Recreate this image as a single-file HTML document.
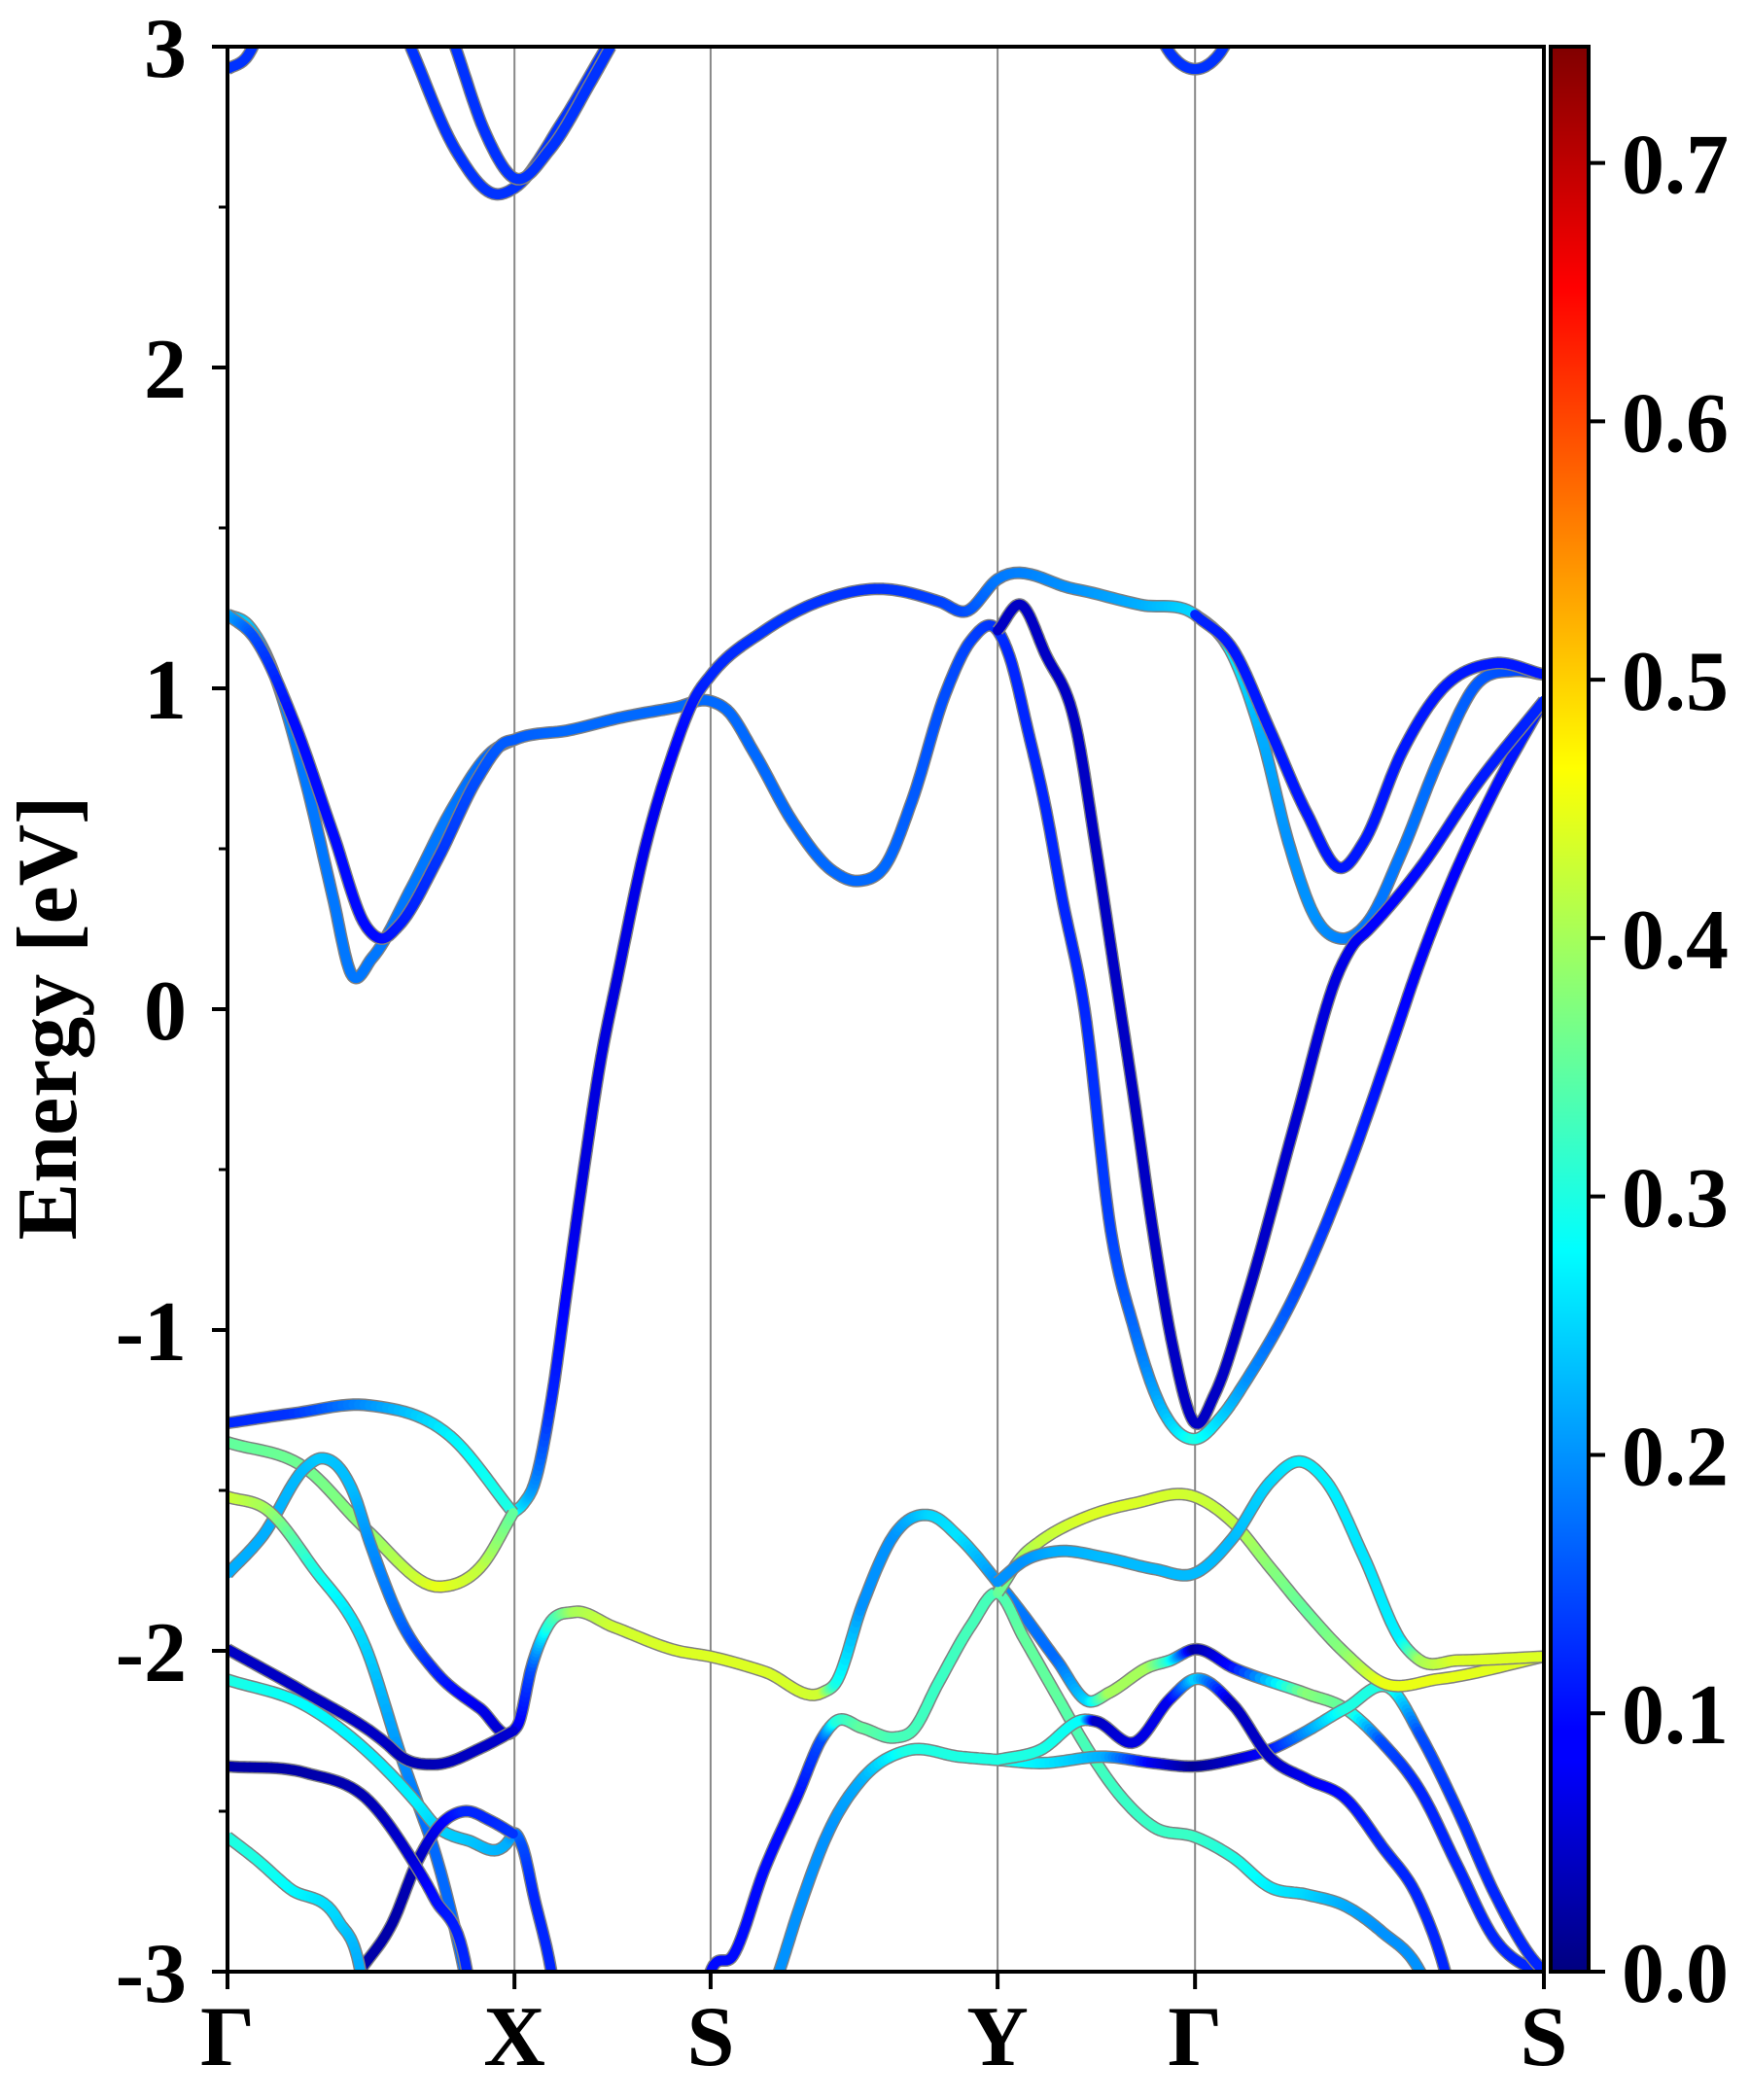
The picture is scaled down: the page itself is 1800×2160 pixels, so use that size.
<!DOCTYPE html>
<html><head><meta charset="utf-8"><style>
html,body{margin:0;padding:0;background:#fff}
svg{display:block}
text{font-family:"Liberation Serif","Times New Roman",serif;font-weight:bold;fill:#000}
</style></head><body>
<svg id="chart" width="1800" height="2160" viewBox="0 0 1800 2160">
<defs>
<clipPath id="plotclip"><rect x="234" y="48" width="1354" height="1980"/></clipPath>
<linearGradient id="jet" x1="0" y1="1" x2="0" y2="0">
<stop offset="0" stop-color="#000080"/><stop offset="0.11" stop-color="#0000ff"/><stop offset="0.125" stop-color="#0000ff"/>
<stop offset="0.375" stop-color="#00ffff"/><stop offset="0.625" stop-color="#ffff00"/><stop offset="0.875" stop-color="#ff0000"/><stop offset="1" stop-color="#800000"/>
</linearGradient>
</defs>
<g id="bands" clip-path="url(#plotclip)"></g>
<g id="axes"></g>
</svg>
<script>
// ---- data ----
const kLabels = ["Γ","X","S","Y","Γ","S"];
const kTicks = [0, 0.218, 0.367, 0.585, 0.735, 1.0];
const eTicks = [-3,-2,-1,0,1,2,3];
const eMinorTicks = [-2.5,-1.5,-0.5,0.5,1.5,2.5];
const cbTicks = [0.0,0.1,0.2,0.3,0.4,0.5,0.6,0.7];
const cbMax = 0.745;
// each band: [k, E, weight]
const bandTopG1 = [[0,2.93,.13],[.015,2.97,.13],[.03,3.1,.13]];
const bandTopG2 = [[.70,3.1,.13],[.718,2.97,.13],[.735,2.93,.13],[.752,2.97,.13],[.77,3.1,.13]];
const bandTopX1 = [[.139,3.0,.13],[.173,2.68,.13],[.204,2.54,.13],[.218,2.56,.13],[.255,2.77,.13],[.288,3.0,.13]];
const bandTopX2 = [[.173,3.0,.13],[.196,2.73,.13],[.218,2.59,.13],[.245,2.68,.13],[.276,2.89,.13],[.291,3.0,.13]];
const bandC1 = [[0,1.23,.22],[.015,1.2,.24],[.03,1.1,.2],[.06,.7,.18],[.08,.35,.18],[.094,.11,.18],[.11,.16,.18],[.14,.38,.18],[.17,.62,.18],[.2,.8,.17],[.218,.84,.16],[.26,.87,.17],[.3,.91,.17],[.34,.94,.17],[.367,.96,.17],[.38,.93,.17],[.4,.8,.17],[.43,.58,.17],[.46,.43,.17],[.48,.4,.17],[.5,.45,.17],[.52,.65,.16],[.545,.98,.15],[.565,1.15,.14],[.585,1.18,.13],[.594,1.1,.12],[.608,.869,.12],[.621,.637,.12],[.634,.347,.12],[.651,0,.12],[.671,-.69,.14],[.689,-1.0,.17],[.708,-1.23,.22],[.735,-1.34,.3],[.755,-1.27,.25],[.775,-1.15,.2],[.812,-.88,.15],[.849,-.52,.12],[.886,-.09,.1],[.903,.115,.09],[.92,.3,.09],[.962,.68,.1],[1.0,.962,.12]];
const bandC2 = [[0,1.23,.22],[.02,1.16,.15],[.05,.9,.1],[.08,.55,.1],[.105,.26,.1],[.117,.22,.1],[.13,.26,.11],[.16,.47,.13],[.19,.72,.15],[.21,.83,.16],[.218,.84,.16]];
const bandC3 = [[.217,-1.57,.3],[.225,-1.54,.25],[.233,-1.48,.2],[.246,-1.22,.12],[.258,-.87,.09],[.27,-.52,.07],[.283,-.17,.07],[.297,.115,.07],[.317,.5,.08],[.337,.78,.09],[.355,.97,.11],[.367,1.04,.12],[.408,1.18,.13],[.449,1.27,.13],[.495,1.31,.13],[.541,1.27,.14],[.561,1.24,.15],[.585,1.34,.18],[.643,1.31,.2],[.694,1.26,.22],[.735,1.23,.25],[.764,1.1,.27],[.786,.845,.22],[.806,.52,.2],[.826,.289,.2],[.846,.22,.19],[.866,.27,.18],[.892,.49,.18],[.92,.777,.17],[.948,1.008,.16],[.977,1.054,.15],[1.0,1.043,.14]];
const bandC4 = [[.735,1.23,.12],[.764,1.12,.11],[.792,.869,.11],[.82,.61,.11],[.846,.44,.11],[.863,.52,.11],[.892,.8,.11],[.92,.985,.11],[.962,1.078,.11],[1.0,1.043,.11]];
const bandC5 = [[.585,1.18,.05],[.603,1.26,.05],[.621,1.11,.05],[.645,.87,.05],[.659,.52,.05],[.674,.115,.05],[.689,-.29,.05],[.703,-.69,.05],[.718,-1.05,.05],[.735,-1.29,.05],[.75,-1.2,.05],[.775,-.89,.05],[.812,-.34,.06],[.844,.115,.07],[.855,.2,.08],[.866,.245,.09],[.906,.44,.1],[.948,.695,.11],[1.0,.962,.12]];
const bandV1 = [[0,-1.29,.12],[.05,-1.26,.13],[.108,-1.235,.2],[.169,-1.33,.27],[.217,-1.57,.3]];
const bandV2 = [[0,-1.35,.35],[.059,-1.43,.36],[.105,-1.62,.38],[.162,-1.8,.45],[.194,-1.73,.42],[.217,-1.57,.35]];
const bandV3 = [[0,-1.76,.22],[.027,-1.64,.22],[.059,-1.43,.23],[.071,-1.4,.24],[.096,-1.51,.23],[.108,-1.66,.2],[.132,-1.91,.17],[.157,-2.06,.12],[.192,-2.18,.08],[.217,-2.25,.05],[.221,-2.227,.08],[.231,-2.05,.15],[.243,-1.925,.3],[.263,-1.879,.4],[.293,-1.925,.43],[.342,-2.0,.44],[.367,-2.018,.44],[.408,-2.065,.44],[.452,-2.13,.43],[.462,-2.1,.3],[.482,-1.86,.2],[.507,-1.635,.2],[.534,-1.578,.25],[.556,-1.647,.26],[.585,-1.786,.2],[.605,-1.89,.18],[.63,-2.03,.17],[.654,-2.157,.25],[.67,-2.13,.4],[.7,-2.05,.4],[.716,-2.03,.3],[.735,-1.995,.03],[.764,-2.053,.1],[.82,-2.134,.38],[.849,-2.18,.35],[.877,-2.285,.15],[.906,-2.436,.12],[.934,-2.667,.12],[.963,-2.9,.12],[.991,-2.99,.12],[1.0,-3.0,.12]];
const bandV4 = [[0,-1.52,.43],[.03,-1.56,.4],[.065,-1.74,.3],[.105,-1.99,.25],[.132,-2.33,.2],[.145,-2.48,.18],[.157,-2.62,.17],[.18,-3.0,.17],[.185,-3.1,.17]];
const bandV5 = [[0,-1.995,.05],[.059,-2.13,.05],[.121,-2.29,.05],[.132,-2.33,.04],[.157,-2.354,.04],[.194,-2.3,.05],[.217,-2.25,.06]];
const bandV6 = [[0,-2.09,.3],[.059,-2.17,.28],[.108,-2.32,.27],[.145,-2.48,.27],[.157,-2.54,.25],[.182,-2.59,.24],[.214,-2.59,.22],[.217,-2.57,.2],[.224,-2.61,.15],[.233,-2.77,.12],[.246,-3.0,.12],[.25,-3.1,.12]];
const bandV7 = [[.1,-3.0,.03],[.125,-2.85,.03],[.145,-2.65,.04],[.16,-2.55,.08],[.18,-2.5,.12],[.2,-2.53,.12],[.217,-2.57,.13]];
const bandV8 = [[0,-2.36,.03],[.059,-2.38,.03],[.108,-2.47,.04],[.14,-2.65,.06],[.157,-2.77,.1],[.182,-3.0,.12],[.186,-3.1,.12]];
const bandV9 = [[0,-2.58,.3],[.022,-2.65,.3],[.047,-2.74,.28],[.084,-2.84,.25],[.101,-3.0,.22],[.105,-3.1,.22]];
const bandV10 = [[.36,-3.1,.1],[.367,-3.0,.1],[.384,-2.95,.1],[.408,-2.68,.1],[.433,-2.45,.1],[.452,-2.27,.15],[.462,-2.22,.3],[.482,-2.24,.35],[.507,-2.27,.33],[.52,-2.25,.33],[.54,-2.1,.32],[.565,-1.92,.33],[.585,-1.82,.33],[.605,-1.96,.35],[.63,-2.14,.35],[.654,-2.31,.33],[.68,-2.46,.32],[.704,-2.55,.32],[.735,-2.58,.32],[.764,-2.644,.3],[.792,-2.737,.27],[.82,-2.76,.25],[.849,-2.795,.22],[.877,-2.876,.2],[.906,-3.0,.2],[.915,-3.08,.2]];
const bandV11 = [[.41,-3.1,.2],[.419,-3.0,.2],[.433,-2.82,.2],[.457,-2.56,.2],[.482,-2.4,.22],[.517,-2.31,.3],[.556,-2.33,.3],[.585,-2.34,.3],[.617,-2.35,.27],[.667,-2.33,.22],[.704,-2.35,.08],[.735,-2.36,.02],[.764,-2.34,.05],[.792,-2.308,.1],[.82,-2.25,.2],[.849,-2.18,.3],[.885,-2.122,.3],[.906,-2.262,.15],[.934,-2.493,.13],[.963,-2.76,.12],[.991,-2.958,.12],[1.0,-3.0,.12]];
const bandV12 = [[.585,-1.82,.35],[.605,-1.7,.4],[.617,-1.66,.42],[.654,-1.58,.44],[.689,-1.54,.44],[.735,-1.52,.43],[.764,-1.601,.42],[.792,-1.74,.38],[.82,-1.879,.35],[.849,-2.007,.38],[.877,-2.099,.45],[.92,-2.088,.45],[1.0,-2.018,.44]];
const bandV13 = [[.585,-1.786,.2],[.605,-1.72,.2],[.63,-1.69,.22],[.667,-1.71,.23],[.704,-1.745,.23],[.735,-1.758,.23],[.764,-1.647,.23],[.792,-1.474,.25],[.815,-1.41,.27],[.835,-1.474,.27],[.863,-1.705,.26],[.892,-1.972,.27],[.906,-2.03,.4],[.934,-2.03,.44],[1.0,-2.018,.44]];
const bandV14 = [[.585,-2.34,.3],[.617,-2.31,.3],[.651,-2.215,.28],[.66,-2.22,.05],[.689,-2.285,.07],[.716,-2.15,.08],[.735,-2.088,.25],[.764,-2.169,.05],[.792,-2.332,.05],[.82,-2.4,.08],[.849,-2.459,.1],[.877,-2.609,.12],[.906,-2.784,.12],[.925,-3.0,.12],[.93,-3.08,.12]];
const bands = [bandTopG1,bandTopG2,bandTopX1,bandTopX2,bandC1,bandC2,bandC3,bandC4,bandC5,bandV1,bandV2,bandV3,bandV4,bandV5,bandV6,bandV7,bandV8,bandV9,bandV10,bandV11,bandV12,bandV13,bandV14];

// ---- layout ----
const L=234,R=1588,T=48,B=2028, EMIN=-3, EMAX=3;
const xS = k => L + k*(R-L);
const yS = e => B - (e-EMIN)/(EMAX-EMIN)*(B-T);
const NS="http://www.w3.org/2000/svg";
function mk(tag, attrs, parent){const el=document.createElementNS(NS,tag);for(const a in attrs)el.setAttribute(a,attrs[a]);parent.appendChild(el);return el;}
function jet(w){const t=Math.max(0,Math.min(1,w/cbMax));const c=v=>Math.round(255*Math.max(0,Math.min(1,v)));
  return `rgb(${c(1.5-Math.abs(4*t-3))},${c(1.5-Math.abs(4*t-2))},${c(1.5-Math.abs(4*t-1))})`;}
const bg=document.getElementById('bands'), ax=document.getElementById('axes');

kTicks.slice(1,-1).forEach((k,i)=>{
  const l=mk('line',{x1:xS(k),x2:xS(k),y1:T,y2:B,stroke:'#888',"stroke-width":2},bg);
  
  
});

// cubic Hermite in k with non-uniform finite-difference tangents
function smooth(pts){
  const n=pts.length, m=[];
  for(let i=0;i<n;i++){
    if(i===0) m.push((pts[1][1]-pts[0][1])/(pts[1][0]-pts[0][0]));
    else if(i===n-1) m.push((pts[n-1][1]-pts[n-2][1])/(pts[n-1][0]-pts[n-2][0]));
    else {
      const d0=(pts[i][1]-pts[i-1][1])/(pts[i][0]-pts[i-1][0]), d1=(pts[i+1][1]-pts[i][1])/(pts[i+1][0]-pts[i][0]);
      const h0=pts[i][0]-pts[i-1][0], h1=pts[i+1][0]-pts[i][0];
      m.push((d0*h1+d1*h0)/(h0+h1));
    }
  }
  const out=[];
  for(let i=0;i<n-1;i++){
    const h=pts[i+1][0]-pts[i][0], N=14;
    for(let j=0;j<N;j++){const t=j/N,t2=t*t,t3=t2*t;
      const y=(2*t3-3*t2+1)*pts[i][1]+(t3-2*t2+t)*h*m[i]+(-2*t3+3*t2)*pts[i+1][1]+(t3-t2)*h*m[i+1];
      out.push([pts[i][0]+h*t,y,pts[i][2]+(pts[i+1][2]-pts[i][2])*t]);}
  }
  out.push(pts[n-1]);return out;}

bands.forEach((band,bi)=>{
  const g=mk('g',{},bg);
  
  
  const s=smooth(band);
  const d=s.map((p,i)=>(i?'L':'M')+xS(p[0]).toFixed(1)+','+yS(p[1]).toFixed(1)).join('');
  mk('path',{d:d,fill:'none',stroke:'#808080',"stroke-width":13,"stroke-linejoin":'round'},g);
  for(let i=0;i<s.length-1;i++){
    mk('line',{x1:xS(s[i][0]),y1:yS(s[i][1]),x2:xS(s[i+1][0]),y2:yS(s[i+1][1]),stroke:jet((s[i][2]+s[i+1][2])/2),"stroke-width":10,"stroke-linecap":'round'},g);
  }
});

const fr=mk('rect',{x:L,y:T,width:R-L,height:B-T,fill:'none',stroke:'#000',"stroke-width":4},ax);


eTicks.forEach(e=>{
  mk('line',{x1:L-16,x2:L,y1:yS(e),y2:yS(e),stroke:'#000',"stroke-width":4},ax);
  const t=mk('text',{x:192,y:yS(e)+31,"font-size":88,"text-anchor":'end'},ax);
  t.textContent=String(e);
  
  
});
eMinorTicks.forEach(e=>{mk('line',{x1:L-9,x2:L,y1:yS(e),y2:yS(e),stroke:'#000',"stroke-width":3},ax);});
kTicks.forEach((k,i)=>{
  mk('line',{x1:xS(k),x2:xS(k),y1:B,y2:B+18,stroke:'#000',"stroke-width":4},ax);
  const t=mk('text',{x:xS(k),y:2124,"font-size":88,"text-anchor":'middle'},ax);
  t.textContent=kLabels[i];
  
  
});
const yl=mk('text',{x:0,y:0,"font-size":88,"text-anchor":'middle',transform:'translate(78,1047) rotate(-90)'},ax);
yl.textContent='Energy [eV]';


const CBL=1595,CBR=1634;
const cb=mk('rect',{x:CBL,y:T,width:CBR-CBL,height:B-T,fill:'url(#jet)',stroke:'#000',"stroke-width":4},ax);


const cbY = v => B - v/cbMax*(B-T);
cbTicks.forEach(v=>{
  mk('line',{x1:CBR,x2:CBR+17,y1:cbY(v),y2:cbY(v),stroke:'#000',"stroke-width":4},ax);
  const t=mk('text',{x:1668,y:cbY(v)+31,"font-size":88},ax);
  t.textContent=v.toFixed(1);
  
  
});
</script>
</body></html>
